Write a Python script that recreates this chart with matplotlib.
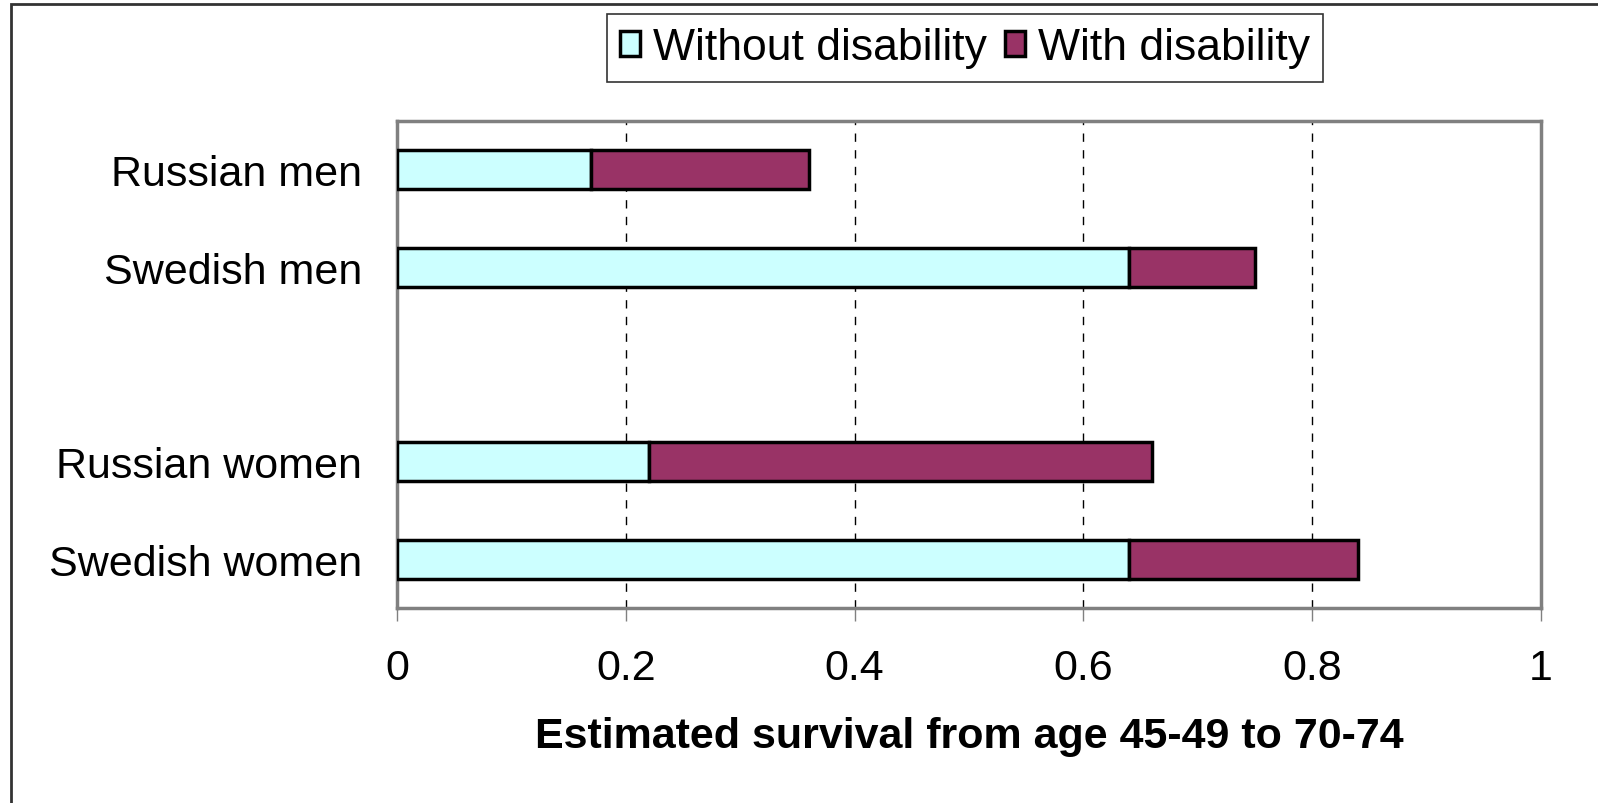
import matplotlib
matplotlib.use("Agg")
import matplotlib.pyplot as plt
from matplotlib.patches import Rectangle

plt.rcParams['font.family'] = ['Liberation Sans', 'DejaVu Sans']

categories = ["Russian men", "Swedish men", "", "Russian women", "Swedish women"]
without_disability = [0.17, 0.64, 0.0, 0.22, 0.64]
with_disability = [0.19, 0.11, 0.0, 0.44, 0.20]
xticks = [0, 0.2, 0.4, 0.6, 0.8, 1]
xtick_labels = ["0", "0.2", "0.4", "0.6", "0.8", "1"]
xlabel = "Estimated survival from age 45-49 to 70-74"
legend_labels = ["Without disability", "With disability"]

W, H = 1598, 804
fig = plt.figure(figsize=(W / 100, H / 100), dpi=100)
ax = fig.add_axes([397 / W, 1 - 609 / H, (1541 - 397) / W, (609 - 122) / H])

ypos = list(range(len(categories)))
bar_h = 0.40
show = [i for i, c in enumerate(categories) if c]
b1 = ax.barh([ypos[i] for i in show], [without_disability[i] for i in show], height=bar_h,
             color="#CCFFFF", edgecolor="black", linewidth=2.5, zorder=3)
b2 = ax.barh([ypos[i] for i in show], [with_disability[i] for i in show], height=bar_h,
             left=[without_disability[i] for i in show],
             color="#993366", edgecolor="black", linewidth=2.5, zorder=3)

ax.set_xlim(0, 1)
ax.set_ylim(len(categories) - 0.5, -0.5)
ax.set_yticks(ypos)
ax.set_yticklabels(categories, fontsize=31)
ax.tick_params(axis='y', length=0, pad=25)
ax.set_xticks(xticks)
ax.set_xticklabels(xtick_labels, fontsize=31)
ax.tick_params(axis='x', length=9, width=1, color="#808080", pad=20, direction='out')
ax.xaxis.grid(True, linestyle=(0, (6, 6)), color="black", linewidth=1, zorder=0)
for s in ax.spines.values():
    s.set_color("#808080")
    s.set_linewidth(2.5)
ax.set_xlabel(xlabel, fontsize=31, fontweight='bold', labelpad=20)

leg = fig.legend([b1, b2], legend_labels, loc='upper center',
                 bbox_to_anchor=(965 / W, 1 - 15 / H), ncol=2, fontsize=32,
                 frameon=True, fancybox=False, edgecolor="black",
                 handlelength=0.45, handleheight=0.5, handletextpad=0.3,
                 columnspacing=0.4, borderpad=0.3, borderaxespad=0)
leg.get_frame().set_linewidth(1.2)

fig.patches.append(Rectangle((11 / W, -0.1), 1.2, 1 - 5 / H + 0.1, transform=fig.transFigure,
                             fill=False, edgecolor="#333333", linewidth=2))

fig.savefig("out.png", dpi=100)
